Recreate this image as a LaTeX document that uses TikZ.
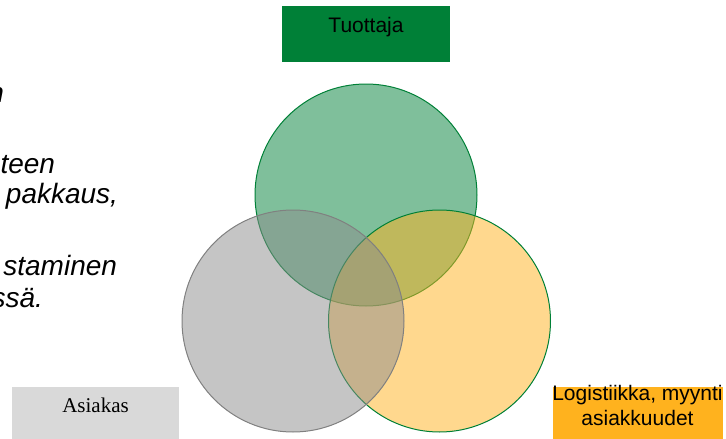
\documentclass[tikz,border=0pt]{standalone}
\usepackage{fontspec}
\setmainfont{Liberation Sans}
\newfontfamily\serifface{Liberation Serif}
\definecolor{tgreen}{RGB}{0,128,55}
\definecolor{lgray}{RGB}{217,217,217}
\definecolor{cgray}{RGB}{140,140,140}
\definecolor{cgrayline}{RGB}{128,128,128}
\definecolor{torange}{RGB}{255,178,30}
\begin{document}
\begin{tikzpicture}[x=1pt,y=-1pt,
  boxnode/.style={inner sep=0pt, outer sep=0pt, draw=none},
  lbl/.style={inner sep=0pt, outer sep=0pt, font=\fontsize{21}{25}\selectfont},
  bodytxt/.style={inner sep=0pt, outer sep=0pt, anchor=base east, font=\fontsize{28}{34}\selectfont\itshape},
  venn/.style={line width=1pt, fill opacity=0.5}]
\useasboundingbox (0,0) rectangle (726,439);
\clip (0,0) rectangle (726,439);
% left body text (clipped)
\node[bodytxt] (t0) at (15,1) {n};
\node[bodytxt] (t1) at (4,102) {n};
\node[bodytxt] (t2) at (55,173) {teen};
\node[bodytxt] (t3) at (118,203) {pakkaus,};
\node[bodytxt] (t4) at (117,275) {staminen};
\node[bodytxt] (t5) at (43,307) {ssä.};
% circles
\draw[venn, draw=tgreen, fill=tgreen] (366,195) circle[radius=111];
\draw[venn, draw=tgreen, fill=torange] (439.5,321) circle[radius=111];
\draw[venn, draw=cgrayline, fill=cgray] (293,321) circle[radius=111];
% boxes
\node[boxnode, fill=tgreen, minimum width=168pt, minimum height=56pt] (tuo) at (366,34) {};
\node[lbl, anchor=base] (tuotxt) at (366,32) {Tuottaja};
\node[boxnode, fill=lgray, minimum width=167pt, minimum height=52pt] (asi) at (95.5,413) {};
\node[lbl, anchor=base, font=\fontsize{21}{25}\selectfont\serifface] (asitxt) at (95.5,412) {Asiakas};
\node[boxnode, fill=torange, minimum width=170pt, minimum height=52pt] (log) at (638,413) {};
\node[lbl, anchor=base] (logtxt1) at (637.5,400) {Logistiikka, myynti};
\node[lbl, anchor=base] (logtxt2) at (637.5,425) {asiakkuudet};
\end{tikzpicture}
\end{document}
